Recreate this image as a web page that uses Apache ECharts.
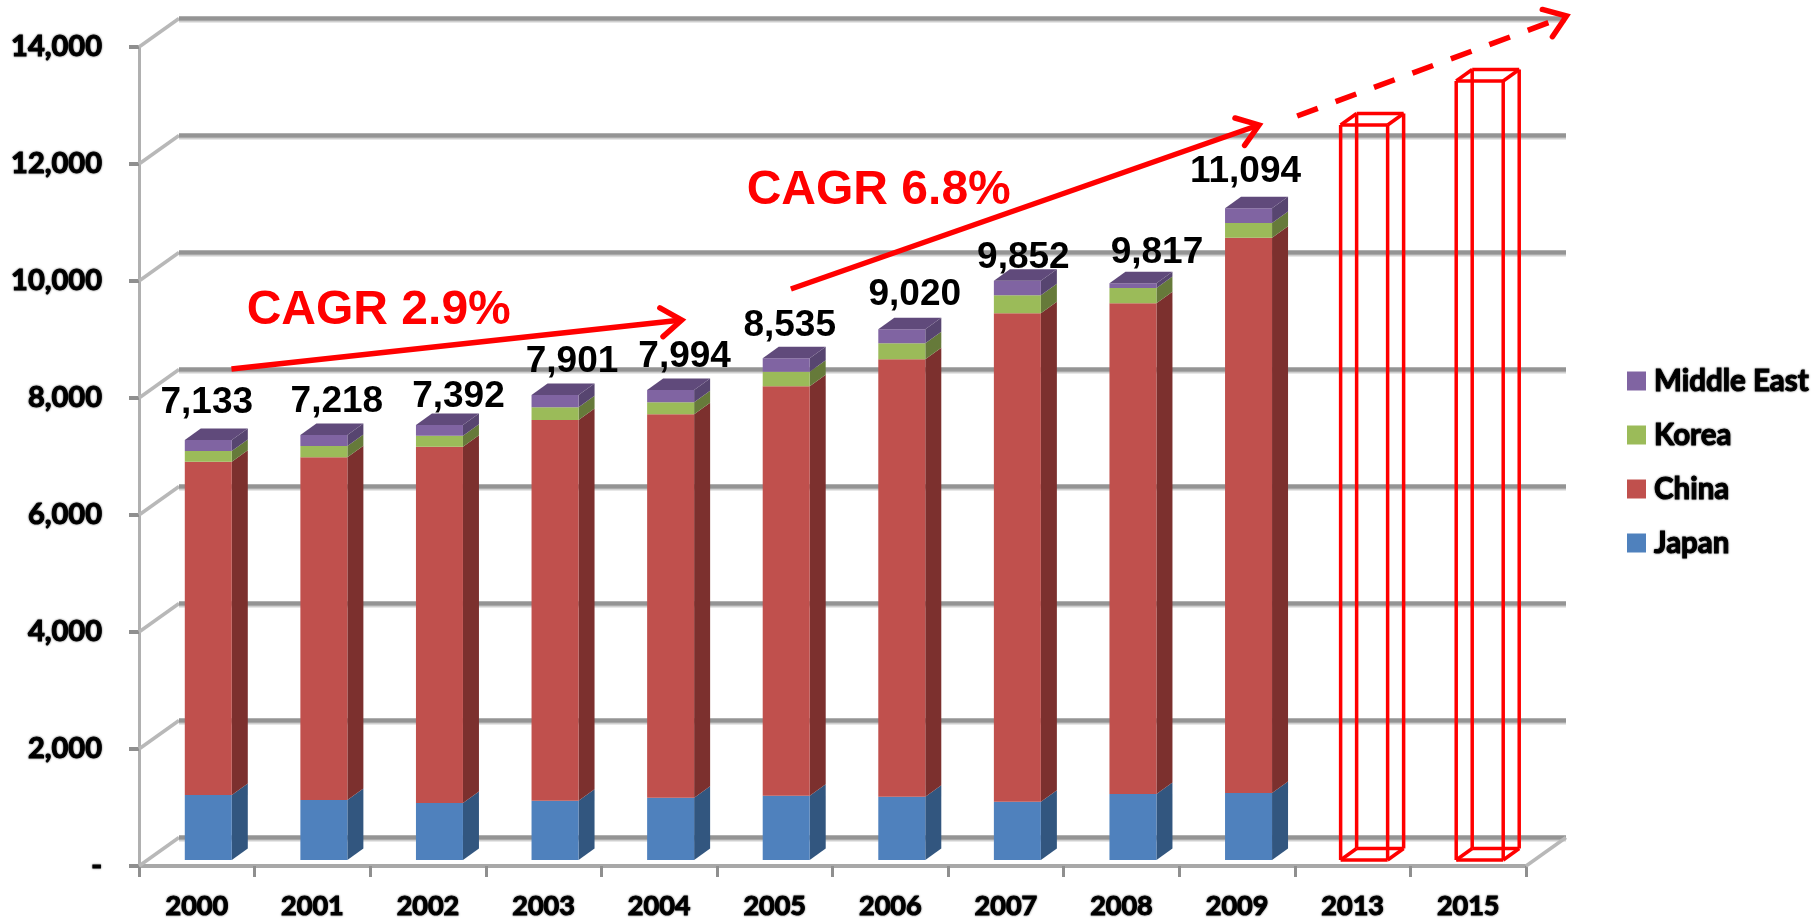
<!DOCTYPE html>
<html><head><meta charset="utf-8">
<style>html,body{margin:0;padding:0;background:#fff}#c{width:1814px;height:922px}</style>
<script src="https://cdn.jsdelivr.net/npm/echarts@6/dist/echarts.min.js"></script>
</head><body><div id="c"></div>
<script>
const categories = ['2000','2001','2002','2003','2004','2005','2006','2007','2008','2009','2013','2015'];
const japan = [1111,1026,974,1014,1065,1099,1082,997,1128,1145];
const china = [5698,5858,6091,6507,6554,6998,7477,8348,8388,9493];
const korea = [182,193,188,217,205,250,273,308,262,251];
const middleEast = [188,188,183,211,210,229,240,250,80,251];
const totals = [7133,7218,7392,7901,7994,8535,9020,9852,9817,11094];
const forecast = [[10,12564],[11,13316]];
const yTicks = [0,2000,4000,6000,8000,10000,12000,14000];
// annotation anchors: [category position, axis value]
const trendA = [[0.30,8496],[4.195,9333]];
const trendB = [[5.14,9863],[9.19,12667]];
const trendC = [[9.52,12821],[11.85,14530]];
const noteA = ['CAGR 2.9%',1.574,9496];
const noteB = ['CAGR 6.8%',5.9,11547];

// layout / style tables (pixels)
const labelNudge = [[-1.5,-37],[13,-33],[19,-28],[17,-33],[14,-33],[3.5,-33],[13,-34],[6,-23],[24,-31],[-3,-37]];
const BAR = {dx:11.5, dy:-6, w:47, sx:16, sy:-11.5};
const WALL = {sx:40, sy:-28.5};
const tickFont = {fontFamily:'Lato', fontWeight:'bold', color:'#000', textBorderColor:'#000', textBorderWidth:1, textShadowColor:'rgba(0,0,0,0.55)', textShadowBlur:2};

function barBox(api, i, a, b){
  const band = api.size([1,0])[0];
  const p0 = api.coord([i,a]), p1 = api.coord([i,b]);
  const x = p0[0]+BAR.dx-BAR.w/2;
  return {x, y0:p0[1]+BAR.dy, y1:p1[1]+BAR.dy, band};
}
function stackSeries(name, values, below, front, side, top){
  return {
    name, type:'custom', coordinateSystem:'cartesian2d', z:5, silent:true,
    itemStyle:{color:front},
    data: values.map((v,i)=>[i, below[i], below[i]+v]),
    encode:{x:0,y:[1,2]},
    renderItem(params, api){
      const b = barBox(api, api.value(0), api.value(1), api.value(2));
      const xr = b.x+BAR.w;
      const kids = [
        {type:'polygon', shape:{points:[[xr,b.y0],[xr+BAR.sx,b.y0+BAR.sy],[xr+BAR.sx,b.y1+BAR.sy],[xr,b.y1]]}, style:{fill:side}},
        {type:'rect', shape:{x:b.x,y:b.y1,width:BAR.w,height:b.y0-b.y1}, style:{fill:front}}
      ];
      if(top) kids.push({type:'polygon', shape:{points:[[b.x,b.y1],[xr,b.y1],[xr+BAR.sx,b.y1+BAR.sy],[b.x+BAR.sx,b.y1+BAR.sy]]}, style:{fill:top}});
      return {type:'group', children:kids};
    }
  };
}
const sum = (a,b)=>a.map((v,i)=>v+b[i]);
const base0 = japan.map(()=>0);
const base1 = japan;
const base2 = sum(japan,china);
const base3 = sum(base2,korea);

function arrowPieces(p, q, dashed){
  const ang = Math.atan2(q[1]-p[1], q[0]-p[0]);
  const L = 25, A = 0.62;
  const a1 = [q[0]-L*Math.cos(ang-A), q[1]-L*Math.sin(ang-A)];
  const a2 = [q[0]-L*Math.cos(ang+A), q[1]-L*Math.sin(ang+A)];
  return [
    {type:'line', shape:{x1:p[0],y1:p[1],x2:q[0],y2:q[1]}, style:{stroke:'#ff0000',lineWidth:5.5,lineDash:dashed?[22,19]:null}},
    {type:'polyline', shape:{points:[a1,q,a2]}, style:{stroke:'#ff0000',lineWidth:5.5,fill:null,lineCap:'round',lineJoin:'miter'}}
  ];
}

const option = {
  animation:false,
  backgroundColor:'#fff',
  grid:{left:139, right:288, top:47, bottom:56, containLabel:false},
  xAxis:{type:'category', data:categories, boundaryGap:true,
    axisLine:{show:true,lineStyle:{color:'#a8a8a8',width:4}},
    axisTick:{show:true,length:11,lineStyle:{color:'#8f8f8f',width:3}},
    axisLabel:Object.assign({fontSize:27,margin:27,interval:0},tickFont),
    splitLine:{show:false}},
  yAxis:{type:'value', min:0, max:14000, interval:2000,
    axisLine:{show:true,lineStyle:{color:'#b0b0b0',width:3}},
    axisTick:{show:true,length:10,lineStyle:{color:'#8f8f8f',width:4}},
    axisLabel:Object.assign({fontSize:29,margin:37,formatter:v=>v===0?'-':v.toLocaleString('en-US')},tickFont),
    splitLine:{show:false}},
  legend:{orient:'vertical', left:1627, top:365, padding:0, icon:'rect', itemWidth:19, itemHeight:19, itemGap:22, selectedMode:false,
    data:['Middle East','Korea','China','Japan'],
    textStyle:{fontFamily:'Lato',fontWeight:'bold',fontSize:29.5,color:'#000',padding:[0,0,0,3],textBorderColor:'#000',textBorderWidth:1,textShadowColor:'rgba(0,0,0,0.55)',textShadowBlur:2,lineHeight:32}},
  series:[
    {type:'custom', name:'walls', z:1, silent:true, coordinateSystem:'cartesian2d',
      data:yTicks.map(v=>[0,v]), encode:{x:0,y:1},
      renderItem(params, api){
        const v = api.value(1);
        const band = api.size([1,0])[0];
        const p = api.coord([0,v]);
        const xl = p[0]-band/2, xr = api.coord([categories.length-1,v])[0]+band/2;
        const bx = xl+WALL.sx, by = p[1]+WALL.sy, ex = xr+WALL.sx;
        const kids = [
          {type:'line',shape:{x1:xl,y1:p[1],x2:bx,y2:by},style:{stroke:'#b8b8b8',lineWidth:3.5}},
          {type:'line',shape:{x1:bx,y1:by+3,x2:ex,y2:by+3},style:{stroke:'#cfcfcf',lineWidth:2}},
          {type:'line',shape:{x1:bx,y1:by,x2:ex,y2:by},style:{stroke:'#949494',lineWidth:4.5}}
        ];
        if(v===0) kids.push({type:'line',shape:{x1:xr,y1:p[1],x2:ex,y2:by},style:{stroke:'#b8b8b8',lineWidth:3.5}});
        return {type:'group',children:kids};
      }},
    stackSeries('Japan', japan, base0, '#4f81bd', '#32567f'),
    stackSeries('China', china, base1, '#c0504d', '#7c302e'),
    stackSeries('Korea', korea, base2, '#9bbb59', '#667a3a'),
    stackSeries('Middle East', middleEast, base3, '#8064a2', '#574570', '#604a7b'),
    {type:'custom', name:'forecast', z:6, silent:true, coordinateSystem:'cartesian2d',
      data:forecast, encode:{x:0,y:1},
      renderItem(params, api){
        const b = barBox(api, api.value(0), 0, api.value(1));
        const xl=b.x, xr=b.x+BAR.w, t=b.y1, g=b.y0, sx=BAR.sx, sy=BAR.sy;
        const seg=(x1,y1,x2,y2)=>({type:'line',shape:{x1,y1,x2,y2},style:{stroke:'#ff0000',lineWidth:3.5}});
        return {type:'group',children:[
          seg(xl+sx,t+sy,xr+sx,t+sy), seg(xl+sx,g+sy,xr+sx,g+sy),
          seg(xl+sx,t+sy,xl+sx,g+sy), seg(xr+sx,t+sy,xr+sx,g+sy),
          seg(xl,t,xl+sx,t+sy), seg(xr,t,xr+sx,t+sy),
          seg(xl,g,xl+sx,g+sy), seg(xr,g,xr+sx,g+sy),
          seg(xl,t,xr,t), seg(xl,g,xr,g), seg(xl,t,xl,g), seg(xr,t,xr,g)
        ]};
      }},
    {type:'custom', name:'totals', z:8, silent:true, coordinateSystem:'cartesian2d',
      data:totals.map((t,i)=>[i, base3[i]+middleEast[i], t]), encode:{x:0,y:1},
      renderItem(params, api){
        const i = api.value(0);
        const p = api.coord([i, api.value(1)]);
        const n = labelNudge[i];
        return {type:'text', style:{x:p[0]+BAR.dx+n[0], y:p[1]+BAR.dy+n[1],
          text:api.value(2).toLocaleString('en-US'), align:'center', verticalAlign:'middle',
          font:'bold 37px "Liberation Sans"', fill:'#000'}};
      }},
    {type:'custom', name:'trends', z:9, silent:true, coordinateSystem:'cartesian2d',
      data:[[0,0]], encode:{x:0,y:1},
      renderItem(params, api){
        const band = api.size([1,0])[0];
        const at = d => { const c = api.coord([0,d[1]]); return [c[0]+d[0]*band, c[1]]; };
        const note = n => { const c = at([n[1],n[2]]);
          return {type:'text',style:{x:c[0],y:c[1],text:n[0],align:'center',verticalAlign:'middle',
            font:'bold 48px "Liberation Sans"',fill:'#ff0000'}}; };
        return {type:'group',children:[
          ...arrowPieces(at(trendA[0]),at(trendA[1]),false),
          ...arrowPieces(at(trendB[0]),at(trendB[1]),false),
          ...arrowPieces(at(trendC[0]),at(trendC[1]),true),
          note(noteA), note(noteB)
        ]};
      }}
  ]
};
echarts.init(document.getElementById('c'),null,{renderer:'canvas'}).setOption(option);
</script></body></html>
